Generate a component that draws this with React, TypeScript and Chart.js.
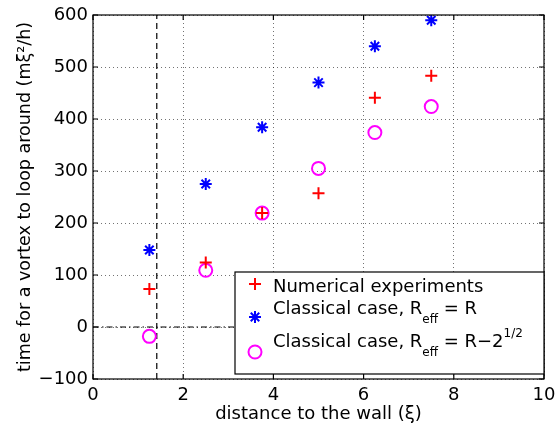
import React, { useEffect, useRef } from "react";
import { Chart, registerables } from "chart.js";

Chart.register(...registerables);

const distances = [1.25, 2.5, 3.75, 5, 6.25, 7.5];
const numerical = [73, 124, 219, 257, 441, 483];
const classical = [148, 275, 384, 470, 540, 590];
const classicalShifted = [-18, 109, 219, 305, 374, 424];
const wallX = [Math.SQRT2, Math.SQRT2];
const wallY = [-100, 600];
const zeroX = [0, 10];
const zeroY = [0, 0];
const xTicks = [0, 2, 4, 6, 8, 10];
const yTicks = [-100, 0, 100, 200, 300, 400, 500, 600];

const FONT = "'DejaVu Sans', 'Liberation Sans', Arial, sans-serif";

const toPts = (xs: number[], ys: number[]) => xs.map((x, i) => ({ x, y: ys[i] }));

const boxPlugin = {
  id: "matlabBox",
  afterDraw(chart: any) {
    const { ctx, chartArea } = chart;
    const { left, right, top, bottom } = chartArea;
    const xs = chart.scales.x;
    const ys = chart.scales.y;
    ctx.save();
    ctx.strokeStyle = "#000";
    ctx.lineWidth = 1.2;
    ctx.setLineDash([]);
    ctx.beginPath();
    const tl = 5;
    xTicks.forEach((t) => {
      const px = xs.getPixelForValue(t);
      ctx.moveTo(px, bottom);
      ctx.lineTo(px, bottom - tl);
      ctx.moveTo(px, top);
      ctx.lineTo(px, top + tl);
    });
    yTicks.forEach((t) => {
      const py = ys.getPixelForValue(t);
      ctx.moveTo(left, py);
      ctx.lineTo(left + tl, py);
      ctx.moveTo(right, py);
      ctx.lineTo(right - tl, py);
    });
    ctx.stroke();
    ctx.strokeRect(left, top, right - left, bottom - top);

    // legend
    const lx = 235, ly = 272, lw = right - 235, lh = 102;
    ctx.fillStyle = "#fff";
    ctx.fillRect(lx, ly, lw, lh);
    ctx.lineWidth = 1.2;
    ctx.strokeStyle = "#000";
    ctx.strokeRect(lx, ly, lw, lh);

    const mx = 255;
    // plus
    ctx.strokeStyle = "#ff0000";
    ctx.lineWidth = 2;
    ctx.beginPath();
    ctx.moveTo(mx - 6, 284);
    ctx.lineTo(mx + 6, 284);
    ctx.moveTo(mx, 278);
    ctx.lineTo(mx, 290);
    ctx.stroke();
    // star
    ctx.strokeStyle = "#0000ff";
    ctx.beginPath();
    const sy = 317, r = 6;
    for (let k = 0; k < 4; k++) {
      const a = (k * Math.PI) / 4;
      ctx.moveTo(mx - r * Math.cos(a), sy - r * Math.sin(a));
      ctx.lineTo(mx + r * Math.cos(a), sy + r * Math.sin(a));
    }
    ctx.stroke();
    // circle
    ctx.strokeStyle = "#ff00ff";
    ctx.beginPath();
    ctx.arc(mx, 352, 6.5, 0, Math.PI * 2);
    ctx.stroke();

    ctx.fillStyle = "#000";
    ctx.textBaseline = "alphabetic";
    ctx.textAlign = "left";
    const big = `18px ${FONT}`;
    const small = `12px ${FONT}`;
    const tx = 273;
    ctx.font = big;
    ctx.fillText("Numerical experiments", tx, 292);

    const drawRow = (base: number, tail: string, sup?: string) => {
      let x = tx;
      ctx.font = big;
      const a = "Classical case, R";
      ctx.fillText(a, x, base);
      x += ctx.measureText(a).width;
      ctx.font = small;
      ctx.fillText("eff", x, base + 9);
      x += ctx.measureText("eff").width;
      ctx.font = big;
      ctx.fillText(tail, x, base);
      x += ctx.measureText(tail).width;
      if (sup) {
        ctx.font = small;
        ctx.fillText(sup, x, base - 10);
      }
    };
    drawRow(314, " = R");
    drawRow(347, " = R\u22122", "1/2");
    ctx.restore();
  },
};

export default function App() {
  const ref = useRef<HTMLCanvasElement | null>(null);
  useEffect(() => {
    if (!ref.current) return;
    const chart = new Chart(ref.current, {
      type: "scatter",
      data: {
        datasets: [
          {
            label: "Numerical experiments",
            data: toPts(distances, numerical),
            pointStyle: "cross",
            pointRadius: 6,
            borderColor: "#ff0000",
            backgroundColor: "#ff0000",
            pointBorderWidth: 2,
            order: 1,
          },
          {
            label: "Classical case, R_eff = R",
            data: toPts(distances, classical),
            pointStyle: "star",
            pointRadius: 6,
            borderColor: "#0000ff",
            backgroundColor: "#0000ff",
            pointBorderWidth: 2,
            order: 1,
          },
          {
            label: "Classical case, R_eff = R-2^1/2",
            data: toPts(distances, classicalShifted),
            pointStyle: "circle",
            pointRadius: 6.5,
            borderColor: "#ff00ff",
            backgroundColor: "rgba(0,0,0,0)",
            pointBorderWidth: 2,
            order: 1,
          },
          {
            label: "wall",
            data: toPts(wallX, wallY),
            showLine: true,
            pointRadius: 0,
            borderColor: "#000",
            borderWidth: 1.2,
            borderDash: [6, 4],
            order: 5,
          },
          {
            label: "zero",
            data: toPts(zeroX, zeroY),
            showLine: true,
            pointRadius: 0,
            borderColor: "#000",
            borderWidth: 1.2,
            borderDash: [6, 3, 1.5, 3],
            order: 5,
          },
        ],
      },
      options: {
        animation: false,
        responsive: false,
        maintainAspectRatio: false,
        layout: { padding: { top: 15, right: 13, left: 0, bottom: 0 } },
        plugins: { legend: { display: false }, tooltip: { enabled: false } },
        scales: {
          x: {
            type: "linear",
            min: 0,
            max: 10,
            afterFit: (s: any) => {
              s.height = 50;
              s.paddingLeft = 0;
              s.paddingRight = 0;
            },
            afterBuildTicks: (s: any) => {
              s.ticks = xTicks.map((v) => ({ value: v }));
            },
            ticks: {
              color: "#000",
              font: { family: FONT, size: 18, lineHeight: 1.2 },
              padding: 6,
              maxRotation: 0,
            },
            grid: { color: "rgba(0,0,0,0.55)", lineWidth: 1, drawTicks: false },
            border: { display: false, dash: [1, 3] },
            title: {
              display: true,
              text: "distance to the wall (\u03BE)",
              color: "#000",
              font: { family: FONT, size: 18, lineHeight: 1.2 },
              padding: { top: 0, bottom: 4 },
            },
          },
          y: {
            type: "linear",
            min: -100,
            max: 600,
            afterFit: (s: any) => {
              s.width = 93;
              s.paddingTop = 0;
              s.paddingBottom = 0;
            },
            afterBuildTicks: (s: any) => {
              s.ticks = yTicks.map((v) => ({ value: v }));
            },
            ticks: {
              color: "#000",
              font: { family: FONT, size: 18, lineHeight: 1.2 },
              padding: 5,
              callback: (v: any) => (Number(v) < 0 ? "\u2212" + Math.abs(Number(v)) : String(v)),
            },
            grid: { color: "rgba(0,0,0,0.55)", lineWidth: 1, drawTicks: false },
            border: { display: false, dash: [1, 3] },
            title: {
              display: true,
              text: "time for a vortex to loop around (m\u03BE\u00B2/h)",
              color: "#000",
              font: { family: FONT, size: 17.5, lineHeight: 1.2 },
              padding: { top: 15, bottom: 0 },
            },
          },
        },
      },
      plugins: [boxPlugin],
    });
    return () => chart.destroy();
  }, []);
  return (
    <div style={{ position: "absolute", left: 0, top: 0, width: 557, height: 429 }}>
      <canvas ref={ref} width={557} height={429} style={{ display: "block" }} />
    </div>
  );
}
